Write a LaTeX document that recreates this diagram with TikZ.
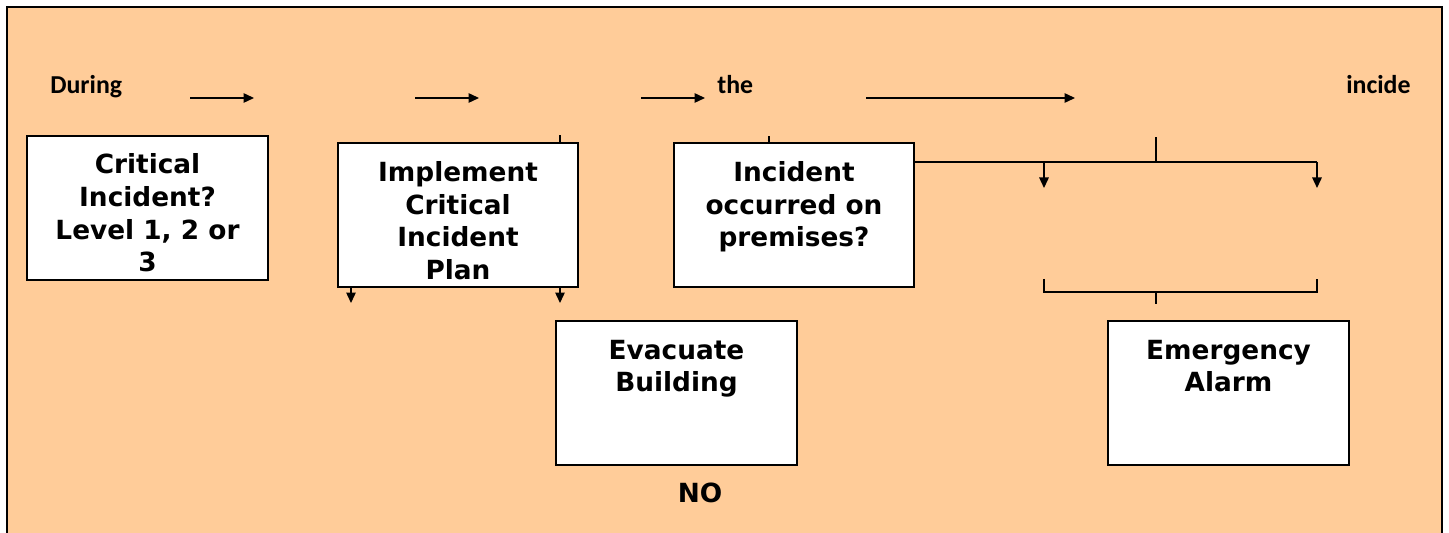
\documentclass[tikz,border=0pt]{standalone}
\usepackage{fontspec}
\usepackage{tikz}
\usetikzlibrary{arrows.meta}
\newfontfamily\boxfont{DejaVu Sans}
\newfontfamily\capfont{Carlito}
\definecolor{incorange}{HTML}{FFCC99}

\tikzset{
  box/.style={draw=black,line width=1.1pt,fill=white,minimum width=4.81cm,minimum height=2.88cm,inner sep=0pt},
  boxtext/.style={font=\boxfont\bfseries\fontsize{15}{18.6}\selectfont,align=center,anchor=north,inner sep=0pt},
  toptext/.style={font=\capfont\bfseries\fontsize{14.7}{17}\selectfont,anchor=base west,inner sep=0pt},
  link/.style={line width=0.8pt},
  flow/.style={line width=0.8pt,-{Triangle[length=0.21cm,width=0.19cm]}},
}

\begin{document}
\begin{tikzpicture}[x=0.02cm,y=-0.02cm]
  \useasboundingbox (0,0) rectangle (1449,533);
  \fill[incorange] (7,7) rectangle (1442,533);
  \draw[line width=1.1pt] (7,533) |- (1442,7) -- (1442,533);

  % top row
  \node[toptext] (during) at (50,93.5) {During};
  \node[toptext] (the) at (717,93.5) {the};
  \node[toptext] (incide) at (1346,93.5) {incide};
  \foreach \i/\s/\e in {1/190/254,2/415/479,3/641/705,4/866/1075}{
    \coordinate (s\i) at (\s,98);
    \coordinate (e\i) at (\e,98);
    \draw[flow] (s\i) -- (e\i);
  }

  % boxes
  \node[box] (crit) at (147.5,208) {};
  \node[boxtext] (critText) at ([yshift=-0.37cm]crit.north) {Critical\\Incident?\\Level 1, 2 or\\3};
  \node[box] (plan) at (458,215) {};
  \node[boxtext] (planText) at ([yshift=-0.38cm]plan.north) {Implement\\Critical\\Incident\\Plan};
  \node[box] (prem) at (794,215) {};
  \node[boxtext] (premText) at ([yshift=-0.38cm]prem.north) {Incident\\occurred on\\premises?};
  \node[box] (evac) at (676.5,393) {};
  \node[boxtext] (evacText) at ([yshift=-0.39cm]evac.north) {Evacuate\\Building};
  \node[box] (alarm) at (1228.5,393) {};
  \node[boxtext] (alarmText) at ([yshift=-0.39cm]alarm.north) {Emergency\\Alarm};
  \node[boxtext,anchor=base] (no) at (700,502) {NO};

  % connectors
  \coordinate (planL) at (351,303);
  \coordinate (planR) at (560,303);
  \draw[flow] (plan.south -| planL) -- (planL);
  \draw[flow] (plan.south -| planR) -- (planR);
  \draw[link] (plan.north -| planR) -- ++(0,-7);
  \draw[link] ([xshift=-0.5cm]prem.north) -- ++(0,-6);

  \coordinate (fork) at (1156,162);
  \coordinate (forkL) at (1044,188);
  \coordinate (forkR) at (1317,188);
  \draw[link] (prem.east |- fork) -- (fork -| forkR);
  \draw[link] (fork) -- ++(0,-25);
  \draw[flow] (fork -| forkL) -- (forkL);
  \draw[flow] (fork -| forkR) -- (forkR);

  \coordinate (brL) at (1044,279);
  \coordinate (brR) at (1317,279);
  \coordinate (join) at (1156,292);
  \draw[link] (brL) |- (join) -| (brR);
  \draw[link] (join) -- ++(0,12);
\end{tikzpicture}
\end{document}
